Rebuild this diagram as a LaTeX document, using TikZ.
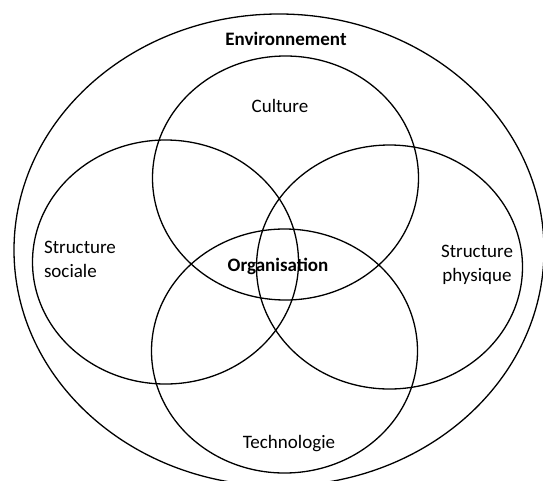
\documentclass[tikz,border=0pt]{standalone}
\usepackage{fontspec}
\setmainfont{Carlito}
\begin{document}
\begin{tikzpicture}[x=1pt,y=-1pt]
            \tikzset{
                ring/.style={line width=1.3pt, x radius=133, y radius=122},
                lbl/.style={font=\fontsize{19}{24}\selectfont, inner sep=0pt},}
            \useasboundingbox (0,0) rectangle (543,480);
            \clip (0,0) rectangle (543,480);
            \draw [line width=1.3pt](279,250) ellipse (265 and 236);
            \draw [ring](285.5,178) ellipse [];
            \draw [ring](165.5,262) ellipse [];
            \draw [ring](389.5,267) ellipse [];
            \draw [ring](284.5,351) ellipse [];
            \node [lbl, font=\fontsize{19}{24}\selectfont\bfseries] (env) at (286,39) {Environnement};
            \node [lbl] (cult) at (280,106) {Culture};
            \node [lbl, align=left] (soc) at (80,259) {Structure\\sociale};
            \node [lbl, align=center] (phys) at (477,265) {Structure\\physique};
            \node [lbl, font=\fontsize{19}{24}\selectfont\bfseries] (org) at (278,266) {Organisation};
            \node [lbl] (tech) at (289,444) {Technologie};
        \end{tikzpicture}
\end{document}
